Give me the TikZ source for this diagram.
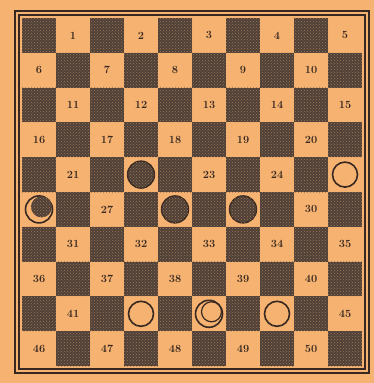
\documentclass[tikz,border=0pt]{standalone}
\usetikzlibrary{patterns}
\definecolor{paper}{RGB}{246,178,112}
\definecolor{darksq}{RGB}{78,64,56}
\definecolor{ink}{RGB}{55,40,33}
\tikzset{
  num/.style={font=\fontsize{11}{11}\selectfont\bfseries, text=ink, inner sep=0pt},
  speckle/.style={postaction={pattern=crosshatch dots, pattern color=paper!50!darksq}},
  wpiece/.style={circle, draw=ink, line width=1.6pt, fill=paper, minimum size=25pt, inner sep=0pt},
  bpiece/.style={circle, draw=ink, line width=1.4pt, fill=darksq, speckle, minimum size=27pt, inner sep=0pt},
}
\begin{document}
\begin{tikzpicture}[x=1pt,y=-1pt]

      % ukuran papan
      \def\bx{22}
      \def\by{18}
      \def\sw{34}
      \def\sh{34.8}

      \useasboundingbox[fill=paper] (0,0) rectangle (374,383);

      % petak gelap
      \foreach \r in {0,...,9} {
          \foreach \c in {0,...,9} {
              \pgfmathtruncatemacro\odd{mod(\r+\c,2)}
              \ifnum\odd=0
                \fill[darksq, speckle] ({\bx+\sw*\c},{\by+\sh*\r}) rectangle ++(\sw,\sh);
              \fi
            }
        }

      % bingkai ganda
      \draw[ink, line width=1.2pt] ({\bx-3},{\by-3}) rectangle ({\bx+10*\sw+3},{\by+10*\sh+3});
      \draw[ink, line width=1.6pt] ({\bx-7},{\by-7}) rectangle ({\bx+10*\sw+7},{\by+10*\sh+7});

      % petak terang dan nomornya
      \foreach \r in {0,...,9} {
          \foreach \k in {0,...,4} {
              \pgfmathtruncatemacro\n{5*\r+\k+1}
              \pgfmathtruncatemacro\c{2*\k+1-mod(\r,2)}
              \coordinate (s\n) at ({\bx+\sw*(\c+0.5)},{\by+\sh*(\r+0.5)});
              \pgfmathtruncatemacro\busy{(\n==22)+(\n==25)+(\n==26)+(\n==28)+(\n==29)+(\n==42)+(\n==43)+(\n==44)}
              \ifnum\busy=0
                \node[num] (n\n) at (s\n) {\n};
              \fi
            }
        }

      % buah hitam
      \node[bpiece] (p22) at (s22) {};
      \node[bpiece] (p28) at (s28) {};
      \node[bpiece] (p29) at (s29) {};

      % buah putih
      \node[wpiece] (p25) at (s25) {};
      \node[wpiece] (p42) at (s42) {};
      \node[wpiece] (p44) at (s44) {};

      % dam
      \node[wpiece, minimum size=27pt] (p26) at (s26) {};
      \node[bpiece, draw=none, minimum size=21pt] (p26b) at ([shift={(2.5,-2.5)}]s26) {};
      \node[wpiece, minimum size=27pt] (p43) at (s43) {};
      \node[wpiece, line width=1.2pt, minimum size=20pt] (p43b) at ([shift={(2.5,-2)}]s43) {};
    \end{tikzpicture}
\end{document}
